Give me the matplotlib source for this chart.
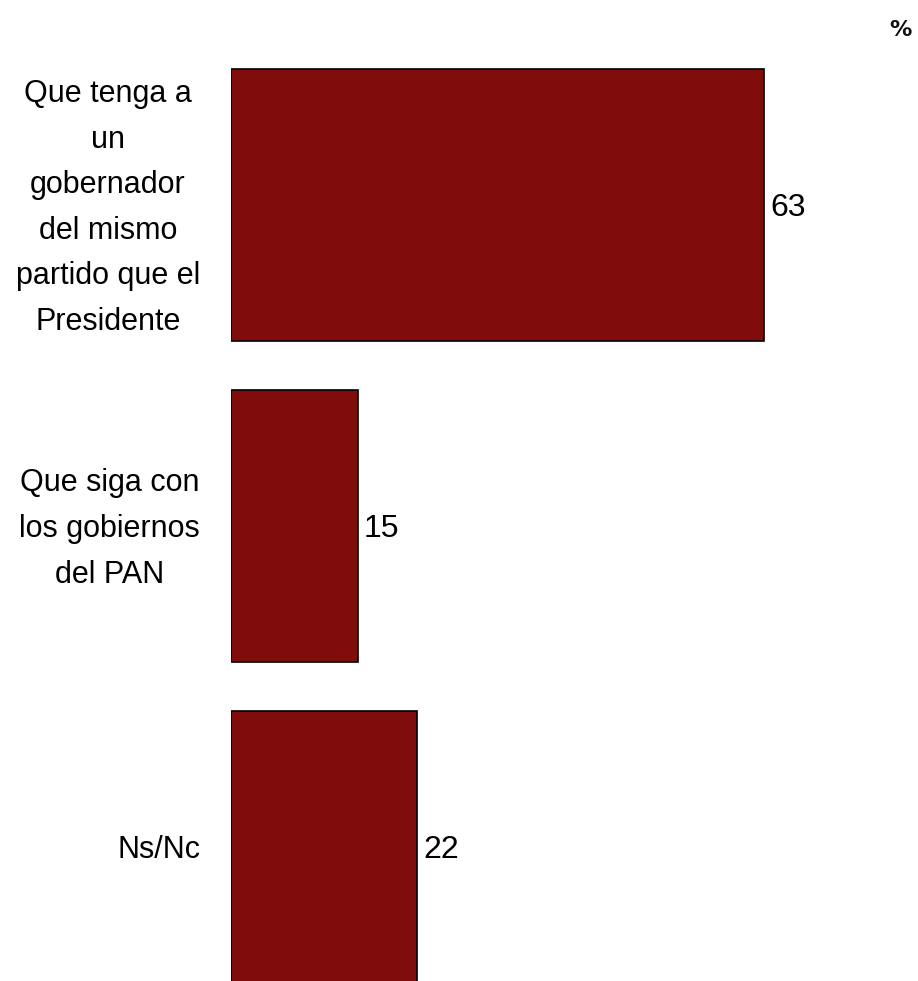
import matplotlib
matplotlib.use("Agg")
import matplotlib.pyplot as plt
from matplotlib import font_manager

categories = ["Que tenga a\nun\ngobernador\ndel mismo\npartido que el\nPresidente",
              "Que siga con\nlos gobiernos\ndel PAN",
              "Ns/Nc"]
values = [63, 15, 22]
unit_label = "%"

names = {f.name for f in font_manager.fontManager.ttflist}
narrow = "Liberation Sans Narrow" if "Liberation Sans Narrow" in names else "Liberation Sans"

W, H = 918, 981
fig = plt.figure(figsize=(W / 100, H / 100), dpi=100)
left_px = 231
ax = fig.add_axes([left_px / W, 0, 1 - left_px / W, 1])

px_per_unit = 8.46
ax.set_xlim(0, (W - left_px) / px_per_unit)
spacing = 321.0
ax.set_ylim((H - 205) / spacing, -205 / spacing)

ypos = list(range(len(values)))
ax.barh(ypos, values, height=272 / spacing, color="#800C0C",
        edgecolor="black", linewidth=1.2)

for y, v, c in zip(ypos, values, categories):
    ax.text(v + 0.7, y + 3 / spacing, str(v), ha="left", va="center",
            fontsize=23, family=narrow, color="black")
    ax.text(-31 / px_per_unit, y + 3 / spacing, c, ha="right", va="center",
            multialignment="center", fontsize=22, family=narrow,
            color="black", linespacing=1.68)

ax.set_axis_off()
fig.text(900 / W, 1 - 30 / H, unit_label, ha="center", va="center",
         fontsize=16, fontweight="bold", family="DejaVu Sans", color="#111111")

fig.savefig("out.png", dpi=100)
